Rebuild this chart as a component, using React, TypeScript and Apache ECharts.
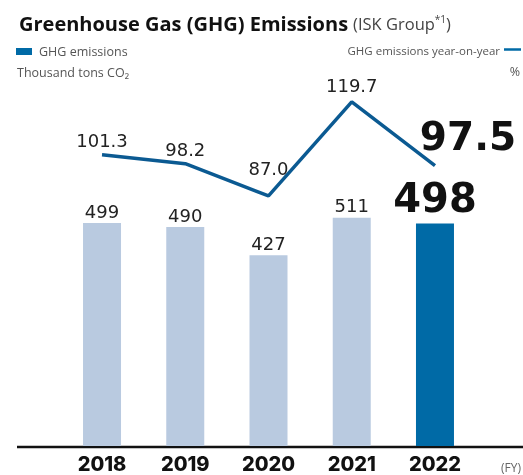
import React, { useEffect, useRef } from "react";
import * as echarts from "echarts";

const years = ["2018", "2019", "2020", "2021", "2022"];
const emissions = [499, 490, 427, 511, 498];
const yoy = [101.3, 98.2, 87.0, 119.7, 97.5];

const LIGHT = "#b9cae0";
const DARK = "#006aa6";
const LINE = "#0b5a92";
const NUM_FONT = "DejaVu Sans";
const TXT_FONT = "Open Sans";

export default function App() {
  const ref = useRef<HTMLDivElement>(null);
  useEffect(() => {
    if (!ref.current) return;
    const chart = echarts.init(ref.current, undefined, { renderer: "svg" });
    const last = years.length - 1;
    const lineDist = [5, 5, 18, 7, 10];

    const barData = emissions.map((v, i) => ({
      value: v,
      itemStyle: { color: i === last ? DARK : LIGHT },
      label:
        i === last
          ? { fontSize: 40, fontWeight: "bold", distance: 5, color: "#111" }
          : { distance: 3 },
    }));
    const lineData = yoy.map((v, i) => ({
      value: v,
      label:
        i === last
          ? { fontSize: 39, fontWeight: "bold", distance: 10, offset: [33, 0], color: "#111" }
          : { distance: lineDist[i] },
    }));

    chart.setOption({
      animation: false,
      title: {
        text: "{a|Greenhouse Gas (GHG) Emissions} {b|(ISK Group}{c|*1}{b|)}",
        left: 14,
        top: 8,
        textStyle: {
          fontWeight: "normal",
          rich: {
            a: { fontFamily: TXT_FONT, fontWeight: "bold", fontSize: 20, color: "#111" },
            b: { fontFamily: TXT_FONT, fontWeight: "normal", fontSize: 16.5, color: "#444" },
            c: { fontFamily: TXT_FONT, fontWeight: "normal", fontSize: 10, color: "#444", padding: [0, 0, 8, 0] },
          },
        },
      },
      grid: { left: 60.4, right: 46.4, top: 101, bottom: 29 },
      xAxis: {
        type: "category",
        data: years,
        axisLine: { show: false },
        axisTick: { show: false },
        axisLabel: {
          margin: 8,
          fontFamily: "Inter",
          fontWeight: 800,
          fontSize: 20,
          lineHeight: 20,
          color: "#111",
        },
      },
      yAxis: [
        { type: "value", min: 0, max: 772, show: false },
        { type: "value", min: 0, max: 120, show: false },
      ],
      series: [
        {
          name: "GHG emissions",
          type: "bar",
          barWidth: 38,
          yAxisIndex: 0,
          data: barData,
          label: {
            show: true,
            position: "top",
            fontFamily: NUM_FONT,
            fontSize: 18,
            color: "#222",
          },
        },
        {
          name: "GHG emissions year-on-year",
          type: "line",
          yAxisIndex: 1,
          data: lineData,
          symbol: "circle",
          symbolSize: 0.1,
          showSymbol: true,
          itemStyle: { color: LINE },
          clip: false,
          lineStyle: { color: LINE, width: 3.5 },
          label: {
            show: true,
            position: "top",
            fontFamily: NUM_FONT,
            fontSize: 18,
            color: "#222",
            formatter: (p: any) => Number(p.value).toFixed(1),
          },
        },
      ],
      graphic: [
        { type: "rect", shape: { x: 16, y: 48, width: 16, height: 7 }, style: { fill: DARK } },
        {
          type: "text",
          x: 39,
          y: 51.5,
          style: { text: "GHG emissions", font: `12.5px '${TXT_FONT}'`, fill: "#555", textVerticalAlign: "middle" },
        },
        {
          type: "text",
          x: 17,
          y: 72.5,
          style: { text: "Thousand tons CO₂", font: `12.5px '${TXT_FONT}'`, fill: "#555", textVerticalAlign: "middle" },
        },
        {
          type: "text",
          x: 500,
          y: 50,
          style: {
            text: "GHG emissions year-on-year",
            font: `11.5px '${TXT_FONT}'`,
            fill: "#555",
            textAlign: "right",
            textVerticalAlign: "middle",
          },
        },
        { type: "line", shape: { x1: 504, y1: 49.5, x2: 521, y2: 49.5 }, style: { stroke: DARK, lineWidth: 2.5 } },
        {
          type: "text",
          x: 520,
          y: 71,
          style: { text: "%", font: `12.5px '${TXT_FONT}'`, fill: "#555", textAlign: "right", textVerticalAlign: "middle" },
        },
        { type: "line", shape: { x1: 17, y1: 447, x2: 523, y2: 447 }, style: { stroke: "#111", lineWidth: 2.5 } },
        {
          type: "text",
          x: 521,
          y: 467,
          style: { text: "(FY)", font: `12px '${TXT_FONT}'`, fill: "#666", textAlign: "right", textVerticalAlign: "middle" },
        },
      ],
    });
    return () => chart.dispose();
  }, []);
  return <div ref={ref} style={{ position: "fixed", left: 0, top: 0, width: 523, height: 475 }} />;
}
